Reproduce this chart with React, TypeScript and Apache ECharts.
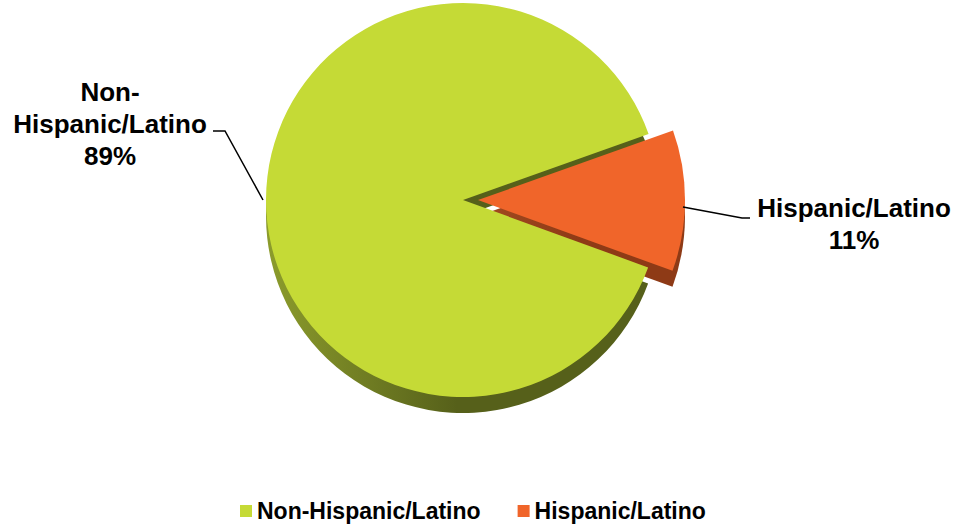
import React, { useEffect, useRef } from "react";
import * as echarts from "echarts";

const categories = ["Non-Hispanic/Latino", "Hispanic/Latino"];
const values = [89, 11];
const topColors = ["#C5DA36", "#F0652A"];
const sideColors = ["#56601A", "#8E3A16"];
const sideLight = ["#8C9C2C", "#A34A20"];

export default function App() {
  const ref = useRef<HTMLDivElement>(null);
  useEffect(() => {
    document.body.style.margin = "0";
    const chart = echarts.init(ref.current!, undefined, { renderer: "svg" });
    const center = [463, 200];
    const radius = 197;
    const bigRadius = 207;
    const total = values.reduce((a, b) => a + b, 0);
    const labelTexts = categories.map(
      (n, i) => n.replace("Non-", "Non-\n") + "\n" + Math.round((values[i] / total) * 100) + "%"
    );
    const font = "Liberation Sans, Arial, sans-serif";
    const sideColor = (i: number) =>
      new echarts.graphic.LinearGradient(0, 0, 1, 0, [
        { offset: 0, color: sideLight[i] },
        { offset: 0.5, color: sideColors[i] },
        { offset: 1, color: sideColors[i] },
      ]);
    const mkData = (only: number, side: boolean) =>
      categories.map((name, i) => ({
        name,
        value: values[i],
        selected: i === 1,
        itemStyle: {
          color: i === only ? (side ? sideColor(i) : topColors[i]) : "rgba(0,0,0,0)",
        },
      }));
    const base = {
      type: "pie",
      startAngle: -20,
      selectedMode: "single",
      selectedOffset: 15,
      silent: true,
      emphasis: { disabled: true },
      label: { show: false },
      labelLine: { show: false },
    };
    const labelPos = [
      { x: 110, y: 124, pts: [[263, 200], [225, 131], [213, 131]] },
      { x: 854, y: 224, pts: [[683, 207], [742, 218], [750, 218]] },
    ];
    chart.setOption({
      animation: false,
      legend: {
        left: 240,
        top: 499,
        padding: 0,
        itemWidth: 12,
        itemHeight: 12,
        itemGap: 37,
        icon: "rect",
        selectedMode: false,
        textStyle: {
          fontFamily: font,
          fontWeight: "bold",
          fontSize: 23,
          lineHeight: 24,
          color: "#000",
        },
        data: categories.map((name, i) => ({
          name,
          itemStyle: { color: topColors[i] },
        })),
      },
      graphic: labelPos.flatMap((l, i) => [
        {
          type: "polyline",
          z: 10,
          shape: { points: l.pts },
          style: { stroke: "#000", lineWidth: 1.5, fill: null },
        },
        {
          type: "text",
          z: 10,
          x: l.x,
          y: l.y,
          style: {
            text: labelTexts[i],
            fontFamily: font,
            fontWeight: "bold",
            fontSize: 26,
            lineHeight: 32,
            fill: "#000",
            align: "center",
            verticalAlign: "middle",
          },
        },
      ]),
      series: [
        { ...base, z: 1, center: [center[0], center[1] + 16], radius, data: mkData(0, true) },
        { ...base, z: 1, center: [center[0], center[1] + 16], radius: bigRadius, data: mkData(1, true) },
        { ...base, z: 2, center, radius, data: mkData(0, false) },
        { ...base, z: 2, center, radius: bigRadius, data: mkData(1, false) },
      ],
    });
    return () => chart.dispose();
  }, []);
  return <div ref={ref} style={{ width: 958, height: 525 }} />;
}
